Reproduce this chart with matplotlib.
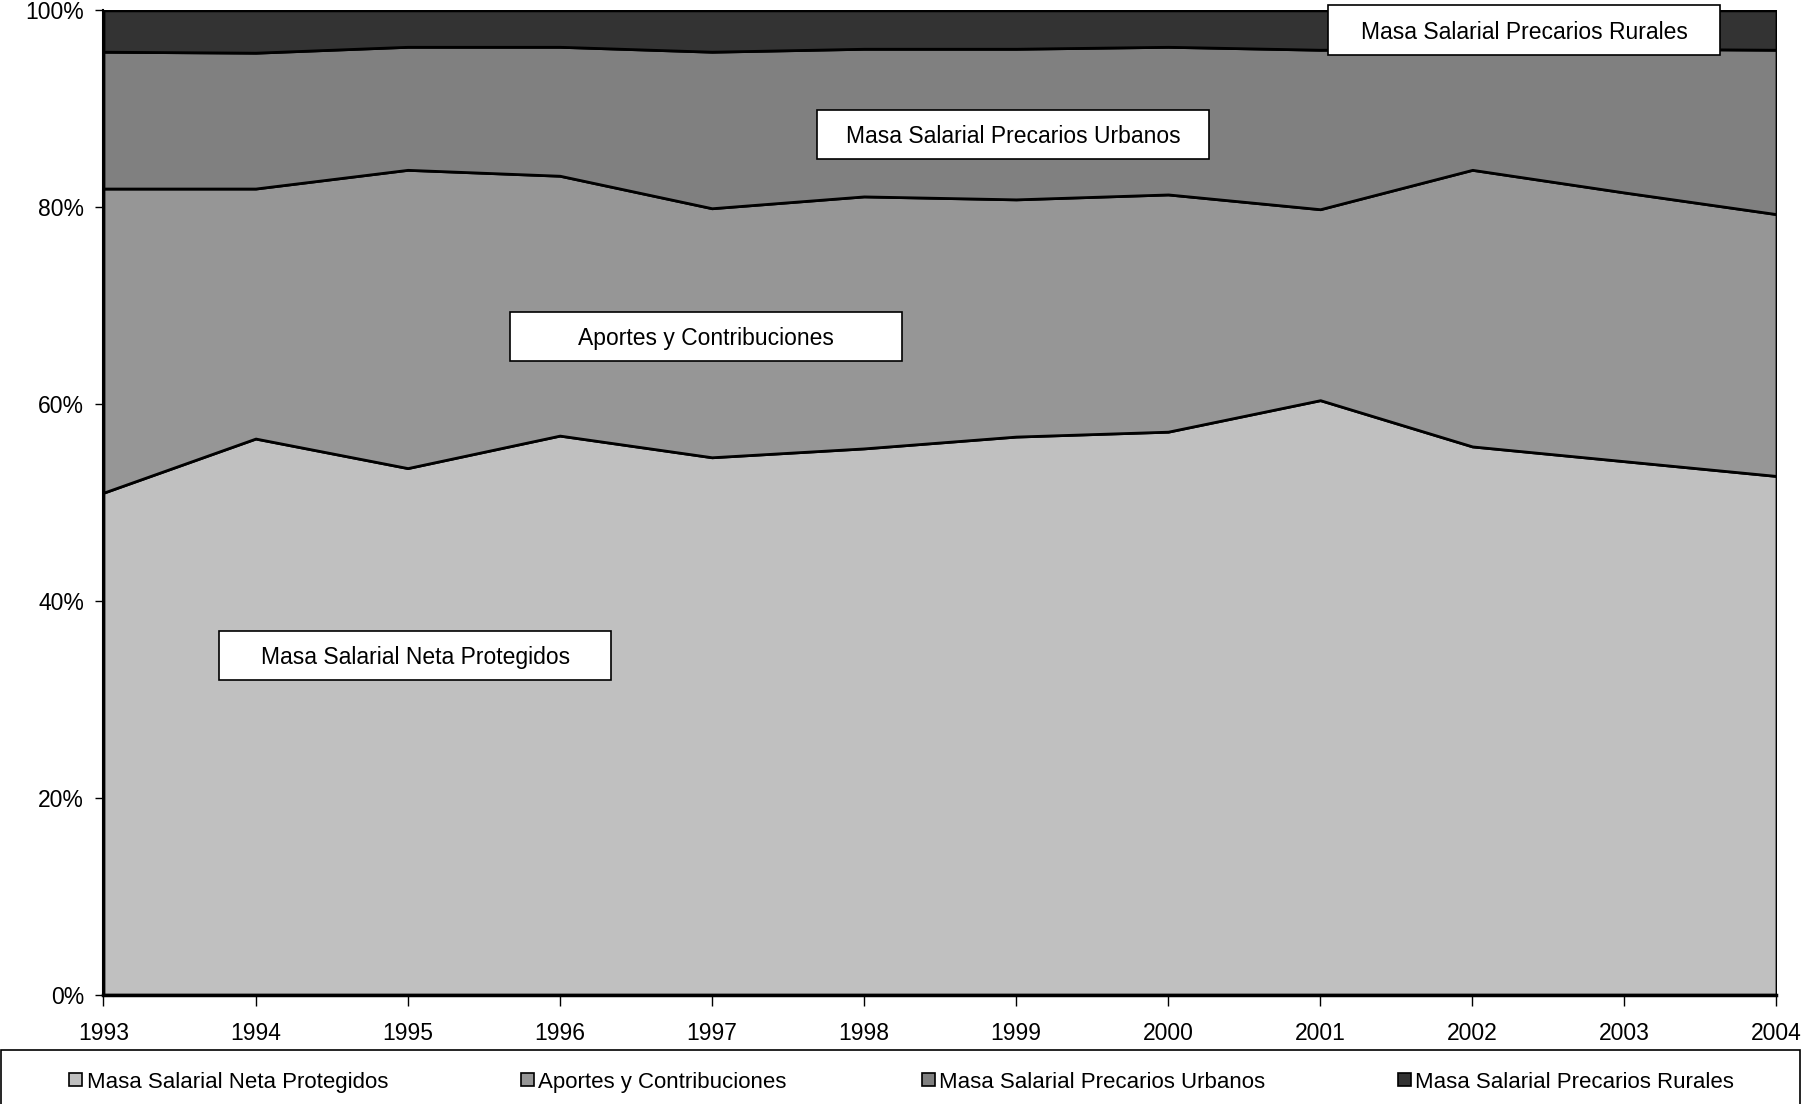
import matplotlib
matplotlib.use("Agg")
import matplotlib.pyplot as plt
from matplotlib.patches import Rectangle
from matplotlib.ticker import PercentFormatter

plt.rcParams["font.family"] = ["Liberation Sans", "DejaVu Sans"]

# shares of each component, percent of total
years = list(range(1993, 2005))
protegidos = [51.0, 56.5, 53.5, 56.8, 54.6, 55.5, 56.7, 57.2, 60.4, 55.7, 54.2, 52.7]
aportes = [30.9, 25.4, 30.3, 26.4, 25.3, 25.6, 24.1, 24.1, 19.4, 28.1, 27.3, 26.6]
urbanos = [13.9, 13.8, 12.5, 13.1, 15.9, 15.0, 15.3, 15.0, 16.2, 12.3, 14.6, 16.7]
rurales = [4.2, 4.3, 3.7, 3.7, 4.2, 3.9, 3.9, 3.7, 4.0, 3.9, 3.9, 4.0]

labels = ["Masa Salarial Neta Protegidos", "Aportes y Contribuciones",
          "Masa Salarial Precarios Urbanos", "Masa Salarial Precarios Rurales"]
colors = ["#c0c0c0", "#969696", "#808080", "#333333"]
FS = 16.5

fig = plt.figure(figsize=(18.03, 11.04), dpi=100)
ax = fig.add_axes([0.0574, 0.099, 0.9279, 0.8916])

ax.stackplot(years, protegidos, aportes, urbanos, rurales, colors=colors,
             edgecolor="black", linewidth=2.0)

ax.set_xlim(years[0], years[-1])
ax.set_ylim(0, 100)
ax.set_xticks(years)
ax.set_yticks(range(0, 101, 20))
ax.yaxis.set_major_formatter(PercentFormatter(decimals=0))
ax.tick_params(axis="x", direction="out", length=8, width=1, pad=12, labelsize=FS)
ax.tick_params(axis="y", direction="out", length=6, width=1, pad=8, labelsize=FS)
for side in ("top", "right"):
    ax.spines[side].set_visible(False)
ax.spines["left"].set_linewidth(1.5)
ax.spines["bottom"].set_linewidth(2.5)

# boxed series labels inside the plot (center x, center y in data units)
box_pos = [(1995.05, 34.5), (1996.96, 66.9), (1998.98, 87.4), (2002.34, 98.0)]
box_w, box_h = 2.58, 5.0
for (cx, cy), text in zip(box_pos, labels):
    ax.add_patch(Rectangle((cx - box_w / 2, cy - box_h / 2), box_w, box_h,
                           facecolor="white", edgecolor="black", linewidth=1.2,
                           zorder=5, clip_on=False))
    ax.text(cx, cy - 0.25, text, ha="center", va="center", fontsize=FS, zorder=6)

# legend strip along the bottom of the figure
fig.patches.append(Rectangle((0.0006, -0.01), 0.9975, 0.059, transform=fig.transFigure,
                             facecolor="white", edgecolor="black", linewidth=1.2))
leg_x = [0.0385, 0.289, 0.5115, 0.7755]
sq_w, sq_h = 0.0072, 0.0115
for x, text, col in zip(leg_x, labels, colors):
    fig.patches.append(Rectangle((x, 0.0165), sq_w, sq_h, transform=fig.transFigure,
                                 facecolor=col, edgecolor="black", linewidth=1.2))
    fig.text(x + 0.0095, 0.0195, text, ha="left", va="center", fontsize=16)

fig.savefig("out.png", dpi=100)
